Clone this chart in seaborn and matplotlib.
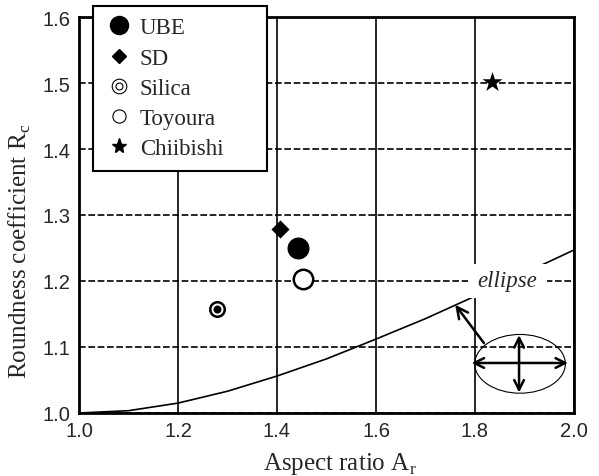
import matplotlib
matplotlib.use("Agg")
import matplotlib.pyplot as plt
import seaborn as sns
import numpy as np
import pandas as pd
from matplotlib.lines import Line2D
from matplotlib.patches import Ellipse, Rectangle
from matplotlib.legend_handler import HandlerTuple

# ---- data ----
samples = ["UBE", "SD", "Silica", "Toyoura", "Chiibishi"]
aspect_ratio = [1.443, 1.407, 1.279, 1.452, 1.834]
roundness = [1.250, 1.279, 1.158, 1.203, 1.501]

curve_ar = [1.0, 1.1, 1.2, 1.3, 1.4, 1.5, 1.6, 1.7, 1.8, 1.9, 2.0]
curve_rc = [1.0, 1.0035, 1.015, 1.033, 1.056, 1.082, 1.112, 1.143, 1.177, 1.212, 1.247]

x_ticks = [1.0, 1.2, 1.4, 1.6, 1.8, 2.0]
y_ticks = [1.0, 1.1, 1.2, 1.3, 1.4, 1.5, 1.6]

sns.set_style("white")
plt.rcParams["font.family"] = ["Liberation Serif", "DejaVu Serif"]
plt.rcParams["mathtext.fontset"] = "custom"
plt.rcParams["mathtext.rm"] = "Liberation Serif"

fig = plt.figure(figsize=(5.99, 4.77), dpi=100)
ax = fig.add_axes([79 / 599, 1 - 414 / 477, 495 / 599, 396 / 477])

ax.set_xlim(1.0, 2.0)
ax.set_ylim(1.0, 1.6)
ax.set_xticks(x_ticks)
ax.set_yticks(y_ticks)
ax.set_xticklabels([f"{v:.1f}" for v in x_ticks], fontfamily="Liberation Sans", fontsize=14.5)
ax.set_yticklabels([f"{v:.1f}" for v in y_ticks], fontfamily="Liberation Sans", fontsize=14.5)
ax.tick_params(length=0, pad=6)

ax.set_axisbelow(True)
ax.xaxis.grid(True, color="black", linestyle="-", linewidth=1.2)
ax.yaxis.grid(True, color="black", linestyle=(0, (4, 1.6)), linewidth=1.2)
for s in ax.spines.values():
    s.set_color("black")
    s.set_linewidth(2.0)

# theoretical ellipse curve
sns.lineplot(x=curve_ar, y=curve_rc, color="black", linewidth=1.2, ax=ax, zorder=2)

# sample markers
styles = {
    "UBE": dict(marker="o", s=250, color="black", edgecolor="black", linewidth=0),
    "SD": dict(marker="D", s=85, color="black", edgecolor="black", linewidth=0),
    "Silica": dict(marker="o", s=109, color="white", edgecolor="black", linewidth=1.8),
    "Toyoura": dict(marker="o", s=196, color="white", edgecolor="black", linewidth=1.8),
    "Chiibishi": dict(marker="*", s=230, color="black", edgecolor="black", linewidth=0),
}
df = pd.DataFrame({"name": samples, "Ar": aspect_ratio, "Rc": roundness})
for _, row in df.iterrows():
    sns.scatterplot(x=[row.Ar], y=[row.Rc], ax=ax, zorder=4, **styles[row["name"]])
    if row["name"] == "Silica":
        sns.scatterplot(x=[row.Ar], y=[row.Rc], ax=ax, zorder=5, marker="o", s=33,
                        color="black", linewidth=0)

# ellipse annotation
ax.add_patch(Rectangle((1.786, 1.175), 0.159, 0.051, facecolor="white", edgecolor="none",
                       zorder=2.5))
ax.text(1.866, 1.2, "ellipse", fontstyle="italic", fontsize=16.5, ha="center", va="center",
        zorder=3)
ax.add_patch(Ellipse((1.891, 1.0745), 0.183, 0.089, facecolor="none", edgecolor="black",
                     linewidth=0.8, zorder=3))
arrow_kw = dict(arrowstyle="<->,head_length=0.7,head_width=0.35", color="black", lw=1.8,
                shrinkA=0, shrinkB=0)
ax.annotate("", xy=(1.793, 1.0758), xytext=(1.988, 1.0758), arrowprops=arrow_kw, zorder=4)
ax.annotate("", xy=(1.889, 1.118), xytext=(1.889, 1.031), arrowprops=arrow_kw, zorder=4)
ax.annotate("", xy=(1.760, 1.164), xytext=(1.818, 1.106),
            arrowprops=dict(arrowstyle="->,head_length=0.8,head_width=0.4", color="black",
                            lw=1.8, shrinkA=0, shrinkB=0), zorder=4)

# axis labels
ax.set_xlabel(r"Aspect ratio A$_\mathregular{r}$", fontsize=18)
ax.set_ylabel(r"Roundness coefficient R$_\mathregular{c}$", fontsize=18)
ax.xaxis.set_label_coords(0.527, -0.093)
ax.yaxis.set_label_coords(-0.092, 0.41)

# legend
handles = [
    Line2D([], [], marker="o", linestyle="none", markersize=13, markerfacecolor="black",
           markeredgecolor="black"),
    Line2D([], [], marker="D", linestyle="none", markersize=7.6, markerfacecolor="black",
           markeredgecolor="black"),
    (Line2D([], [], marker="o", linestyle="none", markersize=10.5, markerfacecolor="white",
            markeredgecolor="black", markeredgewidth=0.8),
     Line2D([], [], marker="o", linestyle="none", markersize=5, markerfacecolor="none",
            markeredgecolor="black", markeredgewidth=0.8)),
    Line2D([], [], marker="o", linestyle="none", markersize=9.5, markerfacecolor="white",
           markeredgecolor="black", markeredgewidth=0.8),
    Line2D([], [], marker="*", linestyle="none", markersize=11, markerfacecolor="black",
           markeredgecolor="black"),
]
leg = ax.legend(handles, samples, loc="upper left",
                bbox_to_anchor=(14 / 495, 0.6136, 174 / 495, 0.4142), mode="expand",
                fontsize=16.5, frameon=True, fancybox=False, shadow=False, framealpha=1,
                edgecolor="black", handlelength=1.3, handletextpad=0.25, borderpad=0.5,
                labelspacing=0.4, borderaxespad=0,
                handler_map={tuple: HandlerTuple(ndivide=1)})
leg.get_frame().set_linewidth(1.5)
leg.set_zorder(10)

fig.savefig("out.png", dpi=100)
